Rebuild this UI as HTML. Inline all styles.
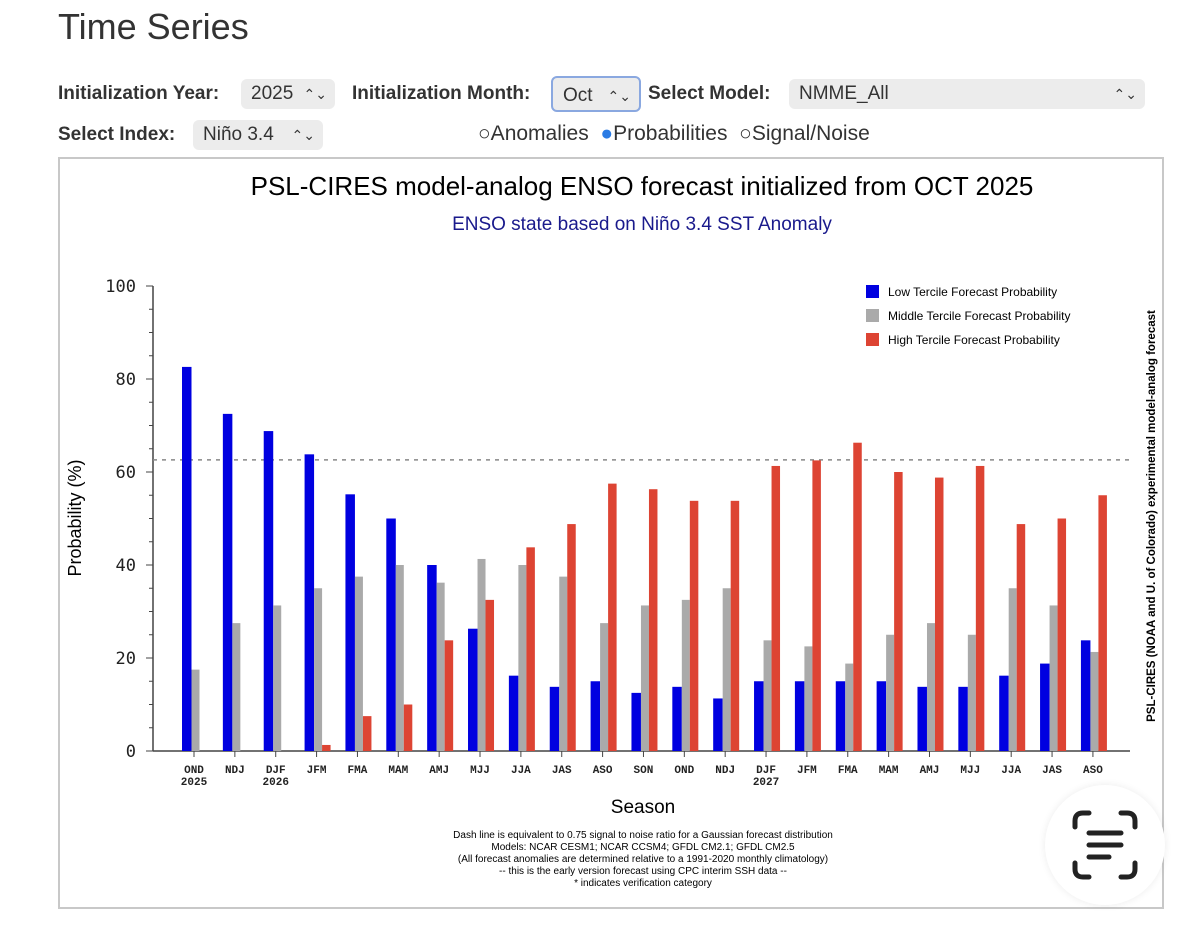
<!DOCTYPE html>
<html><head><meta charset="utf-8">
<style>
body{margin:0;width:1200px;height:933px;background:#fff;font-family:"Liberation Sans",sans-serif;overflow:hidden;position:relative}
.sel{position:absolute;background:#ececec;border-radius:6px;height:30px;line-height:30px;font-size:19px;color:#333;padding:0 10px;box-sizing:border-box}
.lbl{position:absolute;font-size:19px;font-weight:bold;color:#333;line-height:30px}
.arr{position:absolute;right:8px;top:0;font-size:14px}
</style></head><body>
<div style="position:absolute;left:58px;top:6px;font-size:36px;color:#333">Time Series</div>
<div class="lbl" style="left:58px;top:79px">Initialization Year:</div>
<div class="sel" style="left:241px;top:79px;width:94px">2025<span class="arr">⌃⌄</span></div>
<div class="lbl" style="left:352px;top:79px">Initialization Month:</div>
<div class="sel" style="left:551px;top:76px;width:90px;height:36px;line-height:36px;border:2px solid #8aa8e0;background:#ececec">Oct<span class="arr">⌃⌄</span></div>
<div class="lbl" style="left:648px;top:79px">Select Model:</div>
<div class="sel" style="left:789px;top:79px;width:356px">NMME_All<span class="arr">⌃⌄</span></div>
<div class="lbl" style="left:58px;top:120px">Select Index:</div>
<div class="sel" style="left:193px;top:120px;width:130px">Niño 3.4<span class="arr">⌃⌄</span></div>
<div style="position:absolute;left:478px;top:122px;font-size:21px;color:#333">
<span>○Anomalies</span>&nbsp;
<span><span style="color:#2a7be4">●</span>Probabilities</span>&nbsp;
<span>○Signal/Noise</span></div>
<div style="position:absolute;left:58px;top:157px;width:1106px;height:752px;border:2px solid #c8c8c8;box-sizing:border-box"></div>
<svg id="chart" width="1200" height="933" style="position:absolute;left:0;top:0">
<text x="642" y="195" text-anchor="middle" font-size="26" fill="#000">PSL-CIRES model-analog ENSO forecast initialized from OCT 2025</text>
<text x="642" y="230" text-anchor="middle" font-size="19" fill="#1a1a8c">ENSO state based on Niño 3.4 SST Anomaly</text>
<text transform="translate(81,518) rotate(-90)" text-anchor="middle" font-size="18">Probability (%)</text>
<text x="643" y="813" text-anchor="middle" font-size="19">Season</text>
<text transform="translate(1155,516) rotate(-90)" text-anchor="middle" font-size="11.5" font-weight="bold">PSL-CIRES (NOAA and U. of Colorado) experimental model-analog forecast</text>
<g font-size="10" text-anchor="middle">
<text x="643" y="838">Dash line is equivalent to 0.75 signal to noise ratio for a Gaussian forecast distribution</text>
<text x="643" y="850">Models: NCAR CESM1; NCAR CCSM4; GFDL CM2.1; GFDL CM2.5</text>
<text x="643" y="862">(All forecast anomalies are determined relative to a 1991-2020 monthly climatology)</text>
<text x="643" y="874">-- this is the early version forecast using CPC interim SSH data --</text>
<text x="643" y="886">* indicates verification category</text>
</g>
<g font-size="12">
<rect x="866" y="285" width="13" height="13" fill="#0000e0"/><text x="888" y="296">Low Tercile Forecast Probability</text>
<rect x="866" y="309" width="13" height="13" fill="#aaaaaa"/><text x="888" y="320">Middle Tercile Forecast Probability</text>
<rect x="866" y="333" width="13" height="13" fill="#dd4433"/><text x="888" y="344">High Tercile Forecast Probability</text>
</g>
<g id="plot"></g>
</svg>
<div style="position:absolute;left:1045px;top:785px;width:120px;height:120px;border-radius:60px;background:#fff;box-shadow:0 0 8px rgba(0,0,0,0.08)">
<svg width="120" height="120"><g fill="none" stroke="#222" stroke-width="5" stroke-linecap="round">
<path d="M30 42V36Q30 28 38 28H44M76 28H82Q90 28 90 36V42M90 78V84Q90 92 82 92H76M44 92H38Q30 92 30 84V78"/>
<path d="M44 48H76M44 60H76M44 72H64"/></g></svg></div>
<script>
const seasons=["OND","NDJ","DJF","JFM","FMA","MAM","AMJ","MJJ","JJA","JAS","ASO","SON","OND","NDJ","DJF","JFM","FMA","MAM","AMJ","MJJ","JJA","JAS","ASO"];
const years=["2025","","2026","","","","","","","","","","","","2027","","","","","","","",""];
const lowProb=[82.6,72.5,68.8,63.8,55.2,50,40,26.3,16.2,13.8,15,12.5,13.8,11.3,15,15,15,15,13.8,13.8,16.2,18.8,23.8];
const midProb=[17.5,27.5,31.3,35,37.5,40,36.2,41.3,40,37.5,27.5,31.3,32.5,35,23.8,22.5,18.8,25,27.5,25,35,31.3,21.3];
const highProb=[0,0,0,1.3,7.5,10,23.8,32.5,43.8,48.8,57.5,56.3,53.8,53.8,61.3,62.5,66.3,60,58.8,61.3,48.8,50,55];
const yTicks=[0,20,40,60,80,100];
const dashLevel=62.6;
const NS="http://www.w3.org/2000/svg";
const g=document.getElementById('plot');
function y(v){return 751-v*4.65;}
function x(i){return 194+i*40.86;}
function mk(t,a){const e=document.createElementNS(NS,t);for(const k in a)e.setAttribute(k,a[k]);g.appendChild(e);return e;}
let e;
e=mk('line',{x1:153,y1:y(100),x2:153,y2:y(0),stroke:'#444','stroke-width':1.5});


e=mk('line',{x1:153,y1:y(0),x2:1130,y2:y(0),stroke:'#444','stroke-width':1.5});


for(let v=0;v<=100;v+=5){
  e=mk('line',{x1:v%20==0?146:149,y1:y(v),x2:153,y2:y(v),stroke:'#444','stroke-width':1});
  
  
}
yTicks.forEach(v=>{
  e=mk('text',{x:136,y:y(v)+6,'text-anchor':'end','font-size':17,'font-family':'DejaVu Sans Mono, monospace',fill:'#222'});
  e.textContent=v;
  
  
});
e=mk('line',{x1:153,y1:y(dashLevel),x2:1130,y2:y(dashLevel),stroke:'#888','stroke-width':1.5,'stroke-dasharray':'4,5'});


seasons.forEach((s,i)=>{
  const t=x(i);
  e=mk('rect',{x:t-12,y:y(lowProb[i]),width:9.5,height:y(0)-y(lowProb[i]),fill:'#0000e0'});
  
  
  e=mk('rect',{x:t-2.5,y:y(midProb[i]),width:8,height:y(0)-y(midProb[i]),fill:'#aaaaaa'});
  
  
  e=mk('rect',{x:t+5.5,y:y(highProb[i]),width:8.5,height:y(0)-y(highProb[i]),fill:'#dd4433'});
  
  
  e=mk('line',{x1:t,y1:y(0),x2:t,y2:y(0)+6,stroke:'#444','stroke-width':1});
  
  
  e=mk('text',{x:t,y:773,'text-anchor':'middle','font-size':11,'font-weight':'bold','font-family':'Liberation Mono, monospace',fill:'#222'});
  e.textContent=s;
  
  
  if(years[i]){
    e=mk('text',{x:t,y:785,'text-anchor':'middle','font-size':11,'font-weight':'bold','font-family':'Liberation Mono, monospace',fill:'#222'});
    e.textContent=years[i];
    
    
  }
});
</script>
</body></html>
